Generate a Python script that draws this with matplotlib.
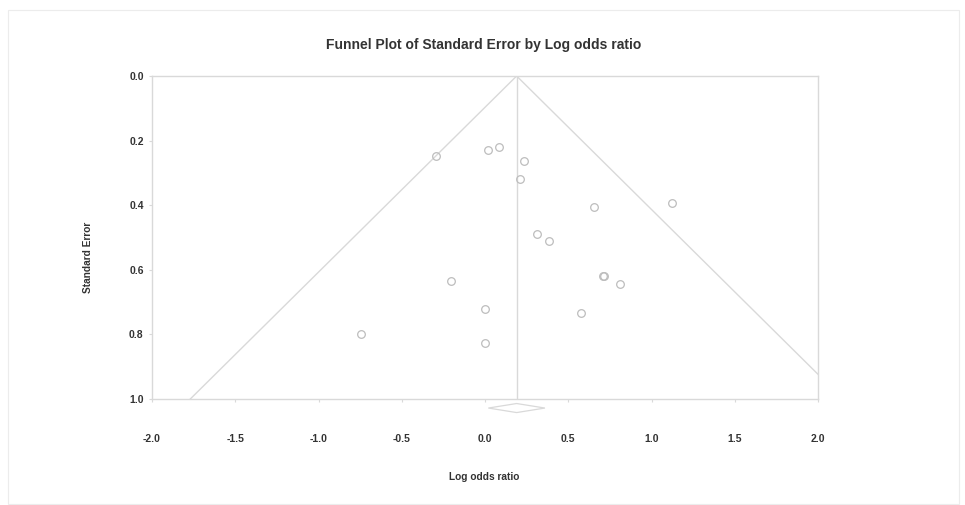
import numpy as np
import matplotlib
matplotlib.use("Agg")
import matplotlib.pyplot as plt
from matplotlib.patches import Polygon, Rectangle

# Study estimates (log odds ratio) and their standard errors
log_odds = [-0.294, 0.016, 0.084, 0.234, 0.210, 0.657, 1.121, 0.310, 0.383,
            0.707, 0.712, 0.813, -0.206, -0.002, 0.577, -0.002, -0.745]
std_err = [0.248, 0.229, 0.219, 0.262, 0.320, 0.405, 0.392, 0.489, 0.510,
           0.618, 0.620, 0.643, 0.634, 0.720, 0.735, 0.828, 0.799]

# Pooled estimate and its half-width for the summary diamond
pooled = 0.19
pooled_half_width = 0.17

x_ticks = [-2.0, -1.5, -1.0, -0.5, 0.0, 0.5, 1.0, 1.5, 2.0]
y_ticks = [0.0, 0.2, 0.4, 0.6, 0.8, 1.0]

line_col = "#d9d9d9"
text_col = "#333333"
font = "Liberation Sans"

fig = plt.figure(figsize=(9.65, 5.05), dpi=100)
ax = fig.add_axes([152 / 965, 1 - 399 / 505, 666 / 965, 323 / 505])

ax.set_xlim(-2.0, 2.0)
ax.set_ylim(1.0, 0.0)

# Funnel: pooled estimate +/- 1.96 * SE
se_line = np.array([0.0, 1.2])
ax.plot(pooled - 1.96 * se_line, se_line, color=line_col, lw=1.0)
ax.plot(pooled + 1.96 * se_line, se_line, color=line_col, lw=1.0)
ax.plot([pooled, pooled], [0.0, 1.0], color=line_col, lw=1.0)

# Individual studies
ax.plot(log_odds, std_err, linestyle="none", marker="o", markersize=5.5,
        markerfacecolor="none", markeredgecolor="#bdbdbd", markeredgewidth=0.9)

# Summary diamond under the axis
dy = 0.014
diamond = Polygon([[pooled - pooled_half_width, 1.0 + 2.0 * dy],
                   [pooled, 1.0 + 1.0 * dy],
                   [pooled + pooled_half_width, 1.0 + 2.0 * dy],
                   [pooled, 1.0 + 3.0 * dy]],
                  closed=True, fill=False, edgecolor=line_col, lw=0.9,
                  clip_on=False)
ax.add_patch(diamond)

for s in ax.spines.values():
    s.set_color(line_col)
    s.set_linewidth(1.0)

ax.set_xticks(x_ticks)
ax.set_xticklabels([f"{v:.1f}" for v in x_ticks])
ax.set_yticks(y_ticks)
ax.set_yticklabels([f"{v:.1f}" for v in y_ticks])
ax.tick_params(axis="both", colors=line_col, length=2, width=0.8,
               labelcolor=text_col, labelsize=7.5)
ax.tick_params(axis="x", pad=23.5)
ax.tick_params(axis="y", pad=4)
for lbl in ax.get_xticklabels() + ax.get_yticklabels():
    lbl.set_fontfamily(font)
    lbl.set_fontweight("bold")

fig.text(484 / 965, 1 - 45 / 505, "Funnel Plot of Standard Error by Log odds ratio",
         ha="center", va="center", fontsize=10, color=text_col, family=font,
         fontweight="bold")
fig.text(484 / 965, 1 - 477 / 505, "Log odds ratio", ha="center", va="center",
         fontsize=7.3, color=text_col, family=font, fontweight="bold")
fig.text(88 / 965, 1 - 257 / 505, "Standard Error", ha="center", va="center",
         rotation=90, fontsize=7.3, color=text_col, family=font, fontweight="bold")

# Faint outer frame
fig.patches.append(Rectangle((8 / 965, 1 - 504 / 505), 951 / 965, 494 / 505,
                             transform=fig.transFigure, fill=False,
                             edgecolor="#ececec", lw=0.8))

fig.savefig("out.png", dpi=100, facecolor="white")
